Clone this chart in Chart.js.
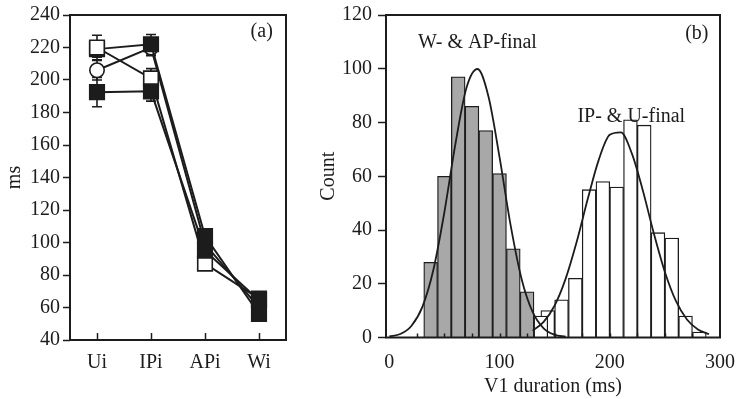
<!DOCTYPE html>
<html>
<head>
<meta charset="utf-8">
<script src="https://cdn.jsdelivr.net/npm/chart.js@4.4.0/dist/chart.umd.min.js"></script>
<style>
  html, body { margin: 0; padding: 0; background: #fff; }
  #wrap { position: relative; width: 738px; height: 399px; }
  #boxA { position: absolute; left: 0; top: 0; width: 300px; height: 399px; }
  #boxB { position: absolute; left: 300px; top: 0; width: 438px; height: 399px; }
</style>
</head>
<body>
<div id="wrap">
  <div id="boxA"><canvas id="chartA"></canvas></div>
  <div id="boxB"><canvas id="chartB"></canvas></div>
</div>
<script>
// (a) mean V1 duration per condition, with error half-widths
const conditions = ['Ui', 'IPi', 'APi', 'Wi'];
const openSquareMs = [220, 201, 87, 65.5];
const openSquareErr = [7.5, 6, 3, 3];
const filledSquareMsA = [219, 222, 104, 56];
const filledSquareErrA = [5, 6, 3, 3];
const openCircleMs = [206, 220, 99, 60];
const openCircleErr = [6, 5, 3, 3];
const filledSquareMsB = [192.5, 193, 95, 64.5];
const filledSquareErrB = [9, 6, 3, 3];

// (b) V1 duration histograms (bin centres in ms) and fitted curves
const wapBins = [37.5, 50, 62.5, 75, 87.5, 100, 112.5, 125, 137.5];
const wapCounts = [28, 60, 97, 86, 77, 61, 33, 17, 8];
const ipuBins = [143.75, 156.25, 168.75, 181.25, 193.75, 206.25, 218.75, 231.25, 243.75, 256.25, 268.75, 281.25];
const ipuCounts = [10, 14, 22, 55, 58, 56, 81, 79, 39, 37, 8, 2];
const wapFitX = [0, 10, 20, 30, 40, 50, 60, 70, 80, 90, 100, 110, 120, 130, 140, 150, 160];
const wapFitY = [0.4, 1.3, 4.3, 11.4, 25.2, 46.7, 72.1, 92.9, 99.9, 89.6, 67.1, 41.9, 21.8, 9.5, 3.4, 1.0, 0.3];
const ipuFitX = [130, 140, 150, 160, 170, 180, 190, 200, 210, 220, 230, 240, 250, 260, 270, 280, 290];
const ipuFitY = [2.5, 5.8, 11.9, 21.9, 35.6, 51.5, 66.1, 75.4, 76.3, 68.5, 54.7, 38.7, 24.4, 13.6, 6.7, 3.0, 1.2];
const durationTicks = [0, 100, 200, 300];
const durationMinorTicks = [25, 50, 75, 100, 125, 150, 175, 200, 225, 250, 275];
const wapShadedUpTo = 131.25;   // last W/AP bin is drawn unfilled

const INK = '#1c1c1c';
const SHADE = '#a8a8a8';
Chart.defaults.font.family = '"Liberation Serif", "Times New Roman", serif';
Chart.defaults.font.size = 20;
Chart.defaults.color = INK;
Chart.defaults.animation = false;

// box frame, inward x ticks, error bars and text notes
const framePlugin = {
  id: 'frame',
  beforeDatasetsDraw(chart) {
    const ctx = chart.ctx;
    const y = chart.scales.y;
    chart.data.datasets.forEach((ds, di) => {
      if (!ds.errors) return;
      const meta = chart.getDatasetMeta(di);
      ctx.save();
      ctx.strokeStyle = INK;
      ctx.lineWidth = 1.6;
      ds.data.forEach((v, i) => {
        const x = meta.data[i].x;
        const top = y.getPixelForValue(v + ds.errors[i]);
        const bot = y.getPixelForValue(v - ds.errors[i]);
        ctx.beginPath();
        ctx.moveTo(x, top); ctx.lineTo(x, bot);
        ctx.moveTo(x - 5, top); ctx.lineTo(x + 5, top);
        ctx.moveTo(x - 5, bot); ctx.lineTo(x + 5, bot);
        ctx.stroke();
      });
      ctx.restore();
    });
  },
  afterDraw(chart, args, opts) {
    const {ctx, chartArea: a} = chart;
    const x = chart.scales.x, y = chart.scales.y;
    ctx.save();
    ctx.strokeStyle = INK;
    ctx.lineWidth = 1.5;
    (opts.innerTicks || []).forEach(v => {
      const px = Math.round(x.getPixelForValue(v)) + 0.5;
      ctx.beginPath();
      ctx.moveTo(px, a.bottom);
      ctx.lineTo(px, a.bottom - opts.tickLength);
      ctx.stroke();
    });
    ctx.lineWidth = 2;
    ctx.strokeRect(a.left, a.top, a.right - a.left, a.bottom - a.top);
    ctx.fillStyle = INK;
    ctx.font = '20px "Liberation Serif", serif';
    ctx.textAlign = 'center';
    ctx.textBaseline = 'middle';
    (opts.notes || []).forEach(n => {
      ctx.fillText(n.text, x.getPixelForValue(n.x), y.getPixelForValue(n.y));
    });
    ctx.restore();
  }
};

function markerSet(data, errors, style, filled, order) {
  return {
    data: data,
    errors: errors,
    order: order,
    borderColor: INK,
    borderWidth: 2,
    tension: 0,
    pointStyle: style,
    pointRadius: style === 'rect' ? 10.3 : 7.2,
    pointBorderWidth: 1.6,
    pointBorderColor: INK,
    pointBackgroundColor: filled ? INK : '#fff'
  };
}

new Chart(document.getElementById('chartA'), {
  type: 'line',
  data: {
    labels: conditions,
    datasets: [
      markerSet(filledSquareMsB, filledSquareErrB, 'rect', true, 0),
      markerSet(openSquareMs, openSquareErr, 'rect', false, 1),
      markerSet(filledSquareMsA, filledSquareErrA, 'rect', true, 2),
      markerSet(openCircleMs, openCircleErr, 'circle', false, 3)
    ]
  },
  options: {
    responsive: true,
    maintainAspectRatio: false,
    layout: { padding: { top: 15, right: 14, left: 0, bottom: 0 } },
    plugins: {
      legend: { display: false },
      tooltip: { enabled: false },
      frame: {
        innerTicks: [0, 1, 2, 3],
        tickLength: 7,
        notes: [{ text: '(a)', x: 3.05, y: 230 }]
      }
    },
    scales: {
      x: {
        offset: true,
        grid: { display: false, drawTicks: false },
        border: { display: false },
        ticks: { padding: 11 },
        afterFit: s => { s.height = 59; }
      },
      y: {
        min: 40,
        max: 240,
        ticks: { stepSize: 20, padding: 3 },
        grid: { drawOnChartArea: false, drawTicks: true, tickLength: 7, color: INK, tickWidth: 1.5 },
        border: { display: false },
        title: { display: true, text: 'ms', padding: { top: 3, bottom: 0 } },
        afterFit: s => { s.width = 70; }
      }
    }
  },
  plugins: [framePlugin]
});

const fixedTicks = s => { s.ticks = durationTicks.map(v => ({ value: v })); };

new Chart(document.getElementById('chartB'), {
  type: 'bar',
  data: {
    datasets: [
      {
        type: 'line',
        data: wapFitX.map((v, i) => ({ x: v, y: wapFitY[i] })),
        order: 0,
        borderColor: INK,
        borderWidth: 1.8,
        pointRadius: 0,
        cubicInterpolationMode: 'monotone'
      },
      {
        type: 'line',
        data: ipuFitX.map((v, i) => ({ x: v, y: ipuFitY[i] })),
        order: 0,
        borderColor: INK,
        borderWidth: 1.8,
        pointRadius: 0,
        cubicInterpolationMode: 'monotone'
      },
      {
        data: wapBins.map((v, i) => ({ x: v, y: wapCounts[i] })),
        order: 1,
        backgroundColor: c => (c.raw && c.raw.x > wapShadedUpTo ? '#fff' : SHADE),
        borderColor: INK,
        borderWidth: 1.3,
        barPercentage: 1,
        categoryPercentage: 1,
        grouped: false
      },
      {
        data: ipuBins.map((v, i) => ({ x: v, y: ipuCounts[i] })),
        xAxisID: 'x2',
        order: 2,
        backgroundColor: '#fff',
        borderColor: INK,
        borderWidth: 1.3,
        barPercentage: 1,
        categoryPercentage: 1,
        grouped: false
      }
    ]
  },
  options: {
    responsive: true,
    maintainAspectRatio: false,
    layout: { padding: { top: 15, right: 18, left: 0, bottom: 0 } },
    plugins: {
      legend: { display: false },
      tooltip: { enabled: false },
      frame: {
        innerTicks: durationMinorTicks,
        tickLength: 4,
        notes: [
          { text: '(b)', x: 279, y: 113 },
          { text: 'W- & AP-final', x: 80, y: 109.5 },
          { text: 'IP- & U-final', x: 219.5, y: 82.3 }
        ]
      }
    },
    scales: {
      x: {
        type: 'linear',
        min: -3,
        max: 300,
        offset: false,
        afterBuildTicks: fixedTicks,
        grid: { display: false, drawTicks: false },
        border: { display: false },
        ticks: { padding: 13, maxRotation: 0 },
        title: { display: true, text: 'V1 duration (ms)', padding: { top: 0, bottom: 0 } },
        afterFit: s => { s.height = 61.5; s.paddingLeft = 0; s.paddingRight = 0; }
      },
      x2: {
        type: 'linear',
        display: false,
        min: -3,
        max: 300,
        offset: false,
        afterBuildTicks: fixedTicks
      },
      y: {
        min: 0,
        max: 120,
        ticks: { stepSize: 20, padding: 6 },
        grid: { drawOnChartArea: false, drawTicks: true, tickLength: 8, color: INK, tickWidth: 1.5 },
        border: { display: false },
        title: { display: true, text: 'Count', padding: { top: 17, bottom: 0 } },
        afterFit: s => { s.width = 86; s.paddingTop = 0; s.paddingBottom = 0; }
      }
    }
  },
  plugins: [framePlugin]
});
</script>
</body>
</html>
